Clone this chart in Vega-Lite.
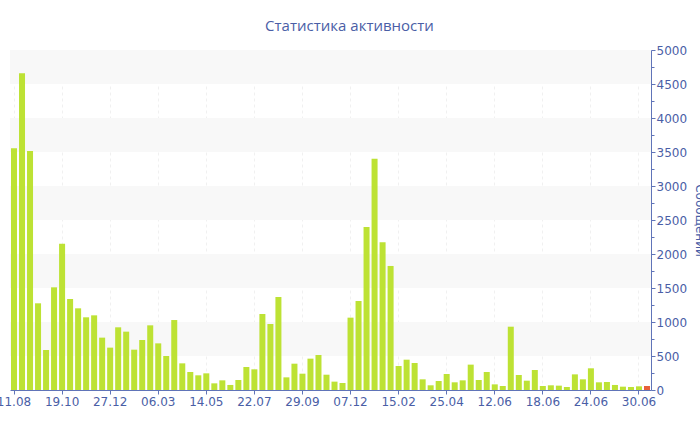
{
  "$schema": "https://vega.github.io/schema/vega-lite/v6.json",
  "width": 641,
  "height": 340,
  "autosize": {"type": "none"},
  "padding": {"left": 10, "top": 50, "right": 49, "bottom": 40},
  "background": "white",
  "title": {
    "text": "Статистика активности",
    "font": "Open Sans",
    "fontSize": 15,
    "fontWeight": "normal",
    "color": "#4a5ea6",
    "anchor": "middle",
    "dx": 19,
    "offset": 10
  },
  "config": {
    "view": {"stroke": null},
    "axis": {"labelFont": "DejaVu Sans", "titleFont": "DejaVu Sans"}
  },
  "datasets": {
    "bands": [
      {"from": 500, "to": 1000},
      {"from": 1500, "to": 2000},
      {"from": 2500, "to": 3000},
      {"from": 3500, "to": 4000},
      {"from": 4500, "to": 5000}
    ],
    "activity": [
      {"date": "2012-08-11", "messages": 3554},
      {"date": "2012-08-22", "messages": 4657},
      {"date": "2012-09-03", "messages": 3515},
      {"date": "2012-09-14", "messages": 1275},
      {"date": "2012-09-26", "messages": 588},
      {"date": "2012-10-07", "messages": 1510},
      {"date": "2012-10-19", "messages": 2152},
      {"date": "2012-10-30", "messages": 1338},
      {"date": "2012-11-11", "messages": 1201},
      {"date": "2012-11-22", "messages": 1069},
      {"date": "2012-12-04", "messages": 1098},
      {"date": "2012-12-15", "messages": 770},
      {"date": "2012-12-27", "messages": 623},
      {"date": "2013-01-07", "messages": 922},
      {"date": "2013-01-19", "messages": 858},
      {"date": "2013-01-30", "messages": 593},
      {"date": "2013-02-11", "messages": 735},
      {"date": "2013-02-22", "messages": 951},
      {"date": "2013-03-06", "messages": 686},
      {"date": "2013-03-17", "messages": 500},
      {"date": "2013-03-29", "messages": 1029},
      {"date": "2013-04-09", "messages": 392},
      {"date": "2013-04-21", "messages": 265},
      {"date": "2013-05-02", "messages": 216},
      {"date": "2013-05-14", "messages": 245},
      {"date": "2013-05-25", "messages": 98},
      {"date": "2013-06-06", "messages": 142},
      {"date": "2013-06-17", "messages": 74},
      {"date": "2013-06-29", "messages": 147},
      {"date": "2013-07-10", "messages": 338},
      {"date": "2013-07-22", "messages": 304},
      {"date": "2013-08-02", "messages": 1118},
      {"date": "2013-08-14", "messages": 971},
      {"date": "2013-08-25", "messages": 1368},
      {"date": "2013-09-06", "messages": 186},
      {"date": "2013-09-17", "messages": 387},
      {"date": "2013-09-29", "messages": 240},
      {"date": "2013-10-10", "messages": 461},
      {"date": "2013-10-22", "messages": 515},
      {"date": "2013-11-02", "messages": 225},
      {"date": "2013-11-14", "messages": 123},
      {"date": "2013-11-25", "messages": 103},
      {"date": "2013-12-07", "messages": 1064},
      {"date": "2013-12-18", "messages": 1309},
      {"date": "2013-12-30", "messages": 2397},
      {"date": "2014-01-10", "messages": 3402},
      {"date": "2014-01-22", "messages": 2172},
      {"date": "2014-02-03", "messages": 1824},
      {"date": "2014-02-15", "messages": 353},
      {"date": "2014-02-26", "messages": 446},
      {"date": "2014-03-10", "messages": 397},
      {"date": "2014-03-21", "messages": 157},
      {"date": "2014-04-02", "messages": 69},
      {"date": "2014-04-13", "messages": 132},
      {"date": "2014-04-25", "messages": 235},
      {"date": "2014-05-03", "messages": 113},
      {"date": "2014-05-11", "messages": 142},
      {"date": "2014-05-19", "messages": 373},
      {"date": "2014-05-27", "messages": 147},
      {"date": "2014-06-04", "messages": 265},
      {"date": "2014-06-12", "messages": 83},
      {"date": "2014-06-13", "messages": 59},
      {"date": "2014-06-14", "messages": 931},
      {"date": "2014-06-15", "messages": 221},
      {"date": "2014-06-16", "messages": 137},
      {"date": "2014-06-17", "messages": 294},
      {"date": "2014-06-18", "messages": 59},
      {"date": "2014-06-19", "messages": 69},
      {"date": "2014-06-20", "messages": 64},
      {"date": "2014-06-21", "messages": 44},
      {"date": "2014-06-22", "messages": 230},
      {"date": "2014-06-23", "messages": 157},
      {"date": "2014-06-24", "messages": 319},
      {"date": "2014-06-25", "messages": 113},
      {"date": "2014-06-26", "messages": 118},
      {"date": "2014-06-27", "messages": 74},
      {"date": "2014-06-28", "messages": 49},
      {"date": "2014-06-29", "messages": 44},
      {"date": "2014-06-30", "messages": 54},
      {"date": "2014-07-01", "messages": 59}
    ]
  },
  "layer": [
    {
      "data": {"name": "bands"},
      "mark": {"type": "rect", "color": "#f8f8f8"},
      "encoding": {
        "y": {
          "field": "from",
          "type": "quantitative",
          "scale": {"domain": [0, 5000]},
          "axis": {
            "orient": "right",
            "title": "Сообщений",
            "titleFontSize": 12,
            "titleFontWeight": "normal",
            "titleColor": "#4a5ea6",
            "titlePadding": 6,
            "values": [0, 250, 500, 750, 1000, 1250, 1500, 1750, 2000, 2250, 2500, 2750, 3000, 3250, 3500, 3750, 4000, 4250, 4500, 4750, 5000],
            "labelExpr": "datum.value % 500 === 0 ? datum.value : ''",
            "labelFontSize": 12,
            "labelColor": "#4a5ea6",
            "labelPadding": 1,
            "domainColor": "#6074b8",
            "tickColor": "#6074b8",
            "tickSize": {"condition": {"test": "datum.value % 500 === 0", "value": 4}, "value": 3},
            "grid": false
          }
        },
        "y2": {"field": "to"}
      }
    },
    {
      "data": {"name": "activity"},
      "mark": {"type": "bar"},
      "encoding": {
        "x": {
          "field": "date",
          "type": "ordinal",
          "sort": "ascending",
          "scale": {"paddingInner": 0.25, "paddingOuter": 0.125},
          "axis": {
            "title": null,
            "values": ["2012-08-11", "2012-10-19", "2012-12-27", "2013-03-06", "2013-05-14", "2013-07-22", "2013-09-29", "2013-12-07", "2014-02-15", "2014-04-25", "2014-06-12", "2014-06-18", "2014-06-24", "2014-06-30"],
            "labelExpr": "slice(datum.value, 8, 10) + '.' + slice(datum.value, 5, 7)",
            "labelAngle": 0,
            "labelFontSize": 12,
            "labelColor": "#4a5ea6",
            "labelPadding": 2,
            "domainColor": "#6074b8",
            "tickColor": "#6074b8",
            "tickSize": 4,
            "grid": true,
            "gridColor": "#f0f0f0",
            "gridDash": [3, 3],
            "labelOverlap": false,
            "labelBound": false,
            "labelFlush": false
          }
        },
        "y": {
          "field": "messages",
          "type": "quantitative",
          "scale": {"domain": [0, 5000]},
          "axis": {
            "orient": "right",
            "title": "Сообщений",
            "titleFontSize": 12,
            "titleFontWeight": "normal",
            "titleColor": "#4a5ea6",
            "titlePadding": 6,
            "values": [0, 250, 500, 750, 1000, 1250, 1500, 1750, 2000, 2250, 2500, 2750, 3000, 3250, 3500, 3750, 4000, 4250, 4500, 4750, 5000],
            "labelExpr": "datum.value % 500 === 0 ? datum.value : ''",
            "labelFontSize": 12,
            "labelColor": "#4a5ea6",
            "labelPadding": 1,
            "domainColor": "#6074b8",
            "tickColor": "#6074b8",
            "tickSize": {"condition": {"test": "datum.value % 500 === 0", "value": 4}, "value": 3},
            "grid": false
          }
        },
        "color": {
          "condition": {"test": "datum.date === '2014-07-01'", "value": "#e8603a"},
          "value": "#bde234"
        }
      }
    }
  ]
}
